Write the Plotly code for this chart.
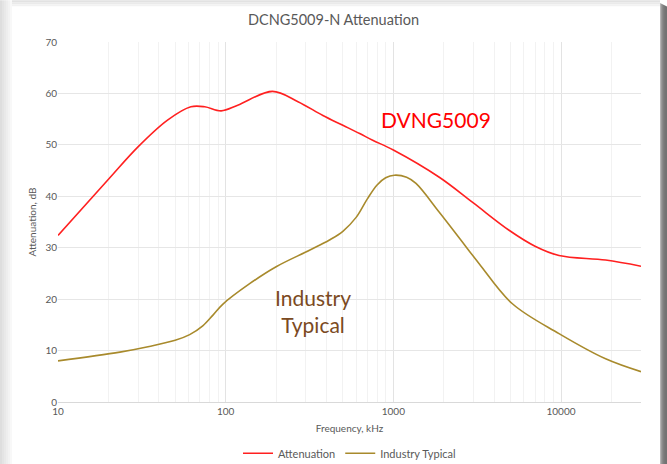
import math
import plotly.graph_objects as go

# ---- data ----
atten_freq = [10, 20, 30, 45, 62, 75, 94, 118, 190, 270, 380, 500, 630, 753, 1000, 1880, 3000, 4900, 7000, 9730, 18450, 30000]
atten_db = [32.4, 43.3, 49.6, 54.8, 57.4, 57.4, 56.6, 57.7, 60.4, 58.4, 55.7, 53.8, 52.2, 50.9, 49.0, 43.7, 38.7, 33.4, 30.3, 28.5, 27.6, 26.4]

typ_freq = [10, 23.4, 35, 50, 61, 73, 84, 96, 139, 200, 316, 416, 500, 600, 700, 800, 900, 1014, 1200, 1365, 1880, 2500, 3250, 5130, 9730, 18450, 30000]
typ_db = [8.0, 9.7, 10.8, 12.0, 13.1, 14.8, 16.9, 19.0, 23.0, 26.3, 29.5, 31.5, 33.2, 35.9, 39.5, 42.2, 43.6, 44.1, 43.7, 42.5, 36.9, 31.7, 26.9, 19.1, 13.3, 8.4, 5.9]

major_ticks = [10, 100, 1000, 10000]
major_labels = ["10", "100", "1000", "10000"]
minor_ticks = [m * d for d in (10, 100, 1000, 10000) for m in range(2, 10) if m * d <= 30000]
y_ticks = [0, 10, 20, 30, 40, 50, 60, 70]

FONT = "Lato, 'Open Sans', sans-serif"
GRAY = "#595959"

fig = go.Figure()
fig.add_trace(go.Scatter(x=atten_freq, y=atten_db, mode="lines", name="Attenuation",
                         line=dict(color="#ff2020", width=1.6, shape="spline", smoothing=1.0)))
fig.add_trace(go.Scatter(x=typ_freq, y=typ_db, mode="lines", name="Industry Typical",
                         line=dict(color="#a88a2c", width=1.6, shape="spline", smoothing=1.0)))

# frame / shadow decoration (paper coords relative to plot area)
L, R, T, B = 58, 641, 41.7, 401.7
W, H = R - L, B - T
def px(x):
    return (x - L) / W
def py(y):
    return (B - y) / H

shapes = []
# left light shadow
for i, c in enumerate(["#dedede", "#e4e4e4", "#e9e9e9", "#eeeeee", "#f3f3f3", "#f8f8f8"]):
    shapes.append(dict(type="rect", xref="paper", yref="paper", x0=px(i * 2), x1=px(i * 2 + 2),
                       y0=py(470), y1=py(0), fillcolor=c, line_width=0, layer="below"))
# top light shadow
for i, c in enumerate(["#e2e2e2", "#eaeaea", "#f2f2f2"]):
    shapes.append(dict(type="rect", xref="paper", yref="paper", x0=px(12), x1=px(660),
                       y0=py(i * 2 + 2), y1=py(i * 2), fillcolor=c, line_width=0, layer="below"))
# right dark shadow
for i, c in enumerate(["#b5b5b5", "#9a9a9a", "#8a8a8a", "#7f7f7f", "#787878", "#747474", "#727272"]):
    shapes.append(dict(type="rect", xref="paper", yref="paper", x0=px(660 + i), x1=px(661 + i),
                       y0=py(470), y1=py(3 + i * 0.5), fillcolor=c, line_width=0, layer="below"))

fig.update_layout(
    width=667, height=464,
    margin=dict(l=L, r=667 - R, t=T, b=464 - B, autoexpand=False),
    paper_bgcolor="#ffffff", plot_bgcolor="#ffffff",
    font=dict(family=FONT, color=GRAY, size=10),
    title=dict(text="DCNG5009-N Attenuation", x=0.5, xanchor="center", y=1 - 20 / 464, yanchor="middle",
               font=dict(size=14.5, color=GRAY, family=FONT)),
    shapes=shapes,
    showlegend=True,
    legend=dict(orientation="h", x=0.5, xanchor="center", y=py(453), yanchor="middle",
                font=dict(size=11, color=GRAY, family=FONT), itemwidth=30,
                bgcolor="rgba(0,0,0,0)", tracegroupgap=0),
    xaxis=dict(type="log", range=[1, math.log10(30000)], automargin=False,
               tickmode="array", tickvals=major_ticks, ticktext=major_labels,
               showgrid=True, gridcolor="#e3e3e3", gridwidth=1,
               minor=dict(tickmode="array", tickvals=minor_ticks, showgrid=True, gridcolor="#f2f2f2", gridwidth=1, ticks=""),
               showline=True, linecolor="#d9d9d9", linewidth=1, ticks="", zeroline=False,
               tickfont=dict(size=10, color=GRAY),
               title=dict(text="Frequency, kHz", font=dict(size=10, color=GRAY), standoff=8)),
    yaxis=dict(range=[0, 70], tickmode="array", tickvals=y_ticks, automargin=False,
               showgrid=True, gridcolor="#e6e6e6", gridwidth=1, zeroline=False,
               showline=False, ticks="", tickfont=dict(size=10, color=GRAY),
               title=dict(text="Attenuation, dB", font=dict(size=10, color=GRAY), standoff=6)),
    annotations=[
        dict(x=math.log10(1800), y=55.0, xref="x", yref="y", text="DVNG5009", showarrow=False,
             font=dict(size=21, color="#ff0000", family=FONT)),
        dict(x=math.log10(334), y=17.7, xref="x", yref="y", text="Industry<br>Typical", showarrow=False,
             font=dict(size=21, color="#7b4a22", family=FONT)),
    ],
)

fig.write_html("out.html", config={"displayModeBar": False},
               post_script="document.body.style.margin='0';document.body.style.overflow='hidden';")
